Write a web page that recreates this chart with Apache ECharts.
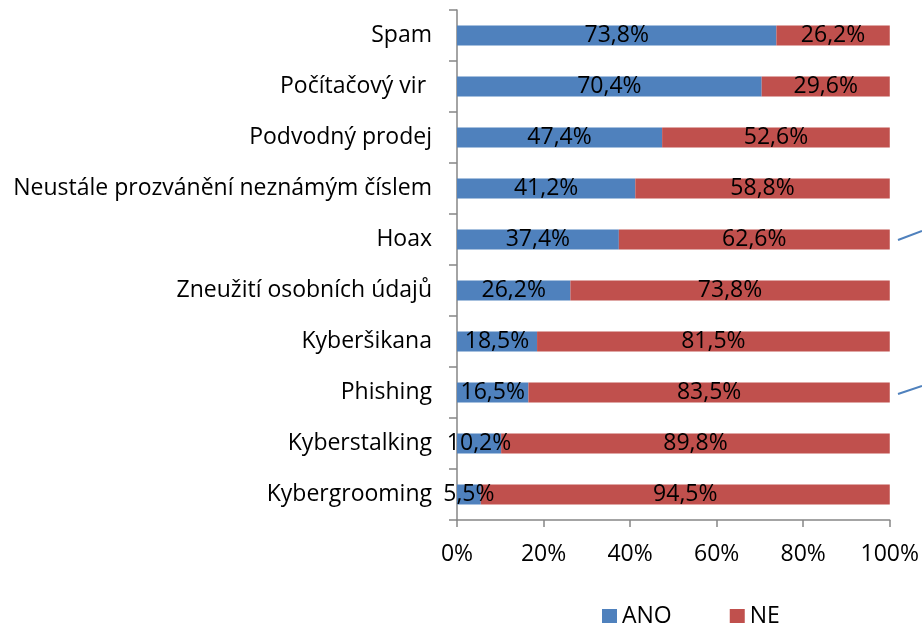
<!DOCTYPE html>
<html>
<head>
<meta charset="utf-8">
<script src="https://cdn.jsdelivr.net/npm/echarts@6/dist/echarts.min.js"></script>
<style>
  html, body { margin: 0; padding: 0; background: #ffffff; }
  #chart { width: 922px; height: 623px; }
</style>
</head>
<body>
<div id="chart"></div>
<script>
// Categories (top to bottom) and shares of answers
const categories = [
  'Spam',
  'Počítačový vir ',
  'Podvodný prodej',
  'Neustále prozvánění neznámým číslem',
  'Hoax',
  'Zneužití osobních údajů',
  'Kyberšikana',
  'Phishing',
  'Kyberstalking',
  'Kybergrooming'
];
const anoValues = [73.8, 70.4, 47.4, 41.2, 37.4, 26.2, 18.5, 16.5, 10.2, 5.5];
const neValues  = [26.2, 29.6, 52.6, 58.8, 62.6, 73.8, 81.5, 83.5, 89.8, 94.5];
const percentTicks = [0, 20, 40, 60, 80, 100];

const FONT = '"Open Sans", "Noto Sans", sans-serif';
const FS = 23;
const fmtPct = v => v.toFixed(1).replace('.', ',') + '%';

const chart = echarts.init(document.getElementById('chart'), null, { renderer: 'canvas' });

const labelStyle = {
  show: true,
  position: 'inside',
  color: '#000000',
  fontFamily: FONT,
  fontSize: FS,
  formatter: p => fmtPct(p.value)
};

chart.setOption({
  animation: false,
  textStyle: { fontFamily: FONT },
  grid: { left: 457, right: 32, top: 10, bottom: 103 },
  legend: {
    top: 600,
    left: 597,
    itemWidth: 15,
    itemHeight: 15,
    itemGap: 58,
    icon: 'rect',
    textStyle: { fontFamily: FONT, fontSize: FS, color: '#000000' },
    data: ['ANO', 'NE']
  },
  xAxis: {
    type: 'value',
    min: 0,
    max: 100,
    interval: 20,
    splitLine: { show: false },
    axisLine: { show: true, lineStyle: { color: '#868686', width: 1.5 } },
    axisTick: { show: true, length: 7, lineStyle: { color: '#868686', width: 1.5 } },
    axisLabel: {
      margin: 23,
      color: '#000000',
      fontFamily: FONT,
      fontSize: FS,
      formatter: v => percentTicks.includes(v) ? v + '%' : ''
    }
  },
  yAxis: {
    type: 'category',
    inverse: true,
    data: categories,
    axisLine: { show: true, lineStyle: { color: '#868686', width: 1.5 } },
    axisTick: { show: true, length: 8, alignWithLabel: false, lineStyle: { color: '#868686', width: 1.5 } },
    axisLabel: {
      margin: 25,
      color: '#000000',
      fontFamily: FONT,
      fontSize: FS
    }
  },
  series: [
    {
      name: 'ANO',
      type: 'bar',
      stack: 'total',
      barWidth: 20,
      itemStyle: { color: '#4F81BD' },
      label: labelStyle,
      data: anoValues
    },
    {
      name: 'NE',
      type: 'bar',
      stack: 'total',
      barWidth: 20,
      itemStyle: { color: '#C0504D' },
      label: labelStyle,
      data: neValues
    }
  ],
  graphic: [
    { type: 'line', shape: { x1: 898, y1: 240, x2: 922, y2: 231 }, style: { stroke: '#4F81BD', lineWidth: 2 } },
    { type: 'line', shape: { x1: 898, y1: 394, x2: 922, y2: 386 }, style: { stroke: '#4F81BD', lineWidth: 2 } }
  ]
});
</script>
</body>
</html>
